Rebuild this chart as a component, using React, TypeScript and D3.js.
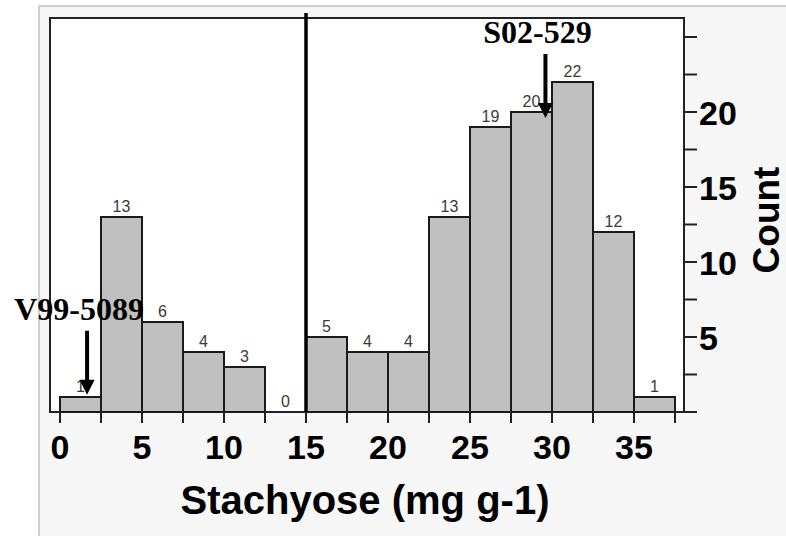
import * as d3 from 'd3';
import React from 'react';

// histogram of stachyose content, bins of 2.5 mg g-1
const binStarts = [0, 2.5, 5, 7.5, 10, 12.5, 15, 17.5, 20, 22.5, 25, 27.5, 30, 32.5, 35];
const counts = [1, 13, 6, 4, 3, 0, 5, 4, 4, 13, 19, 20, 22, 12, 1];
const binWidth = 2.5;
const xTickLabels = [0, 5, 10, 15, 20, 25, 30, 35];
const yTickLabels = [5, 10, 15, 20];
const cutoff = 15;

// annotated genotypes: [label, x value, count at arrow tip]
const notes = [
  { name: 'V99-5089', x: 1.65, tip: 1.15, labelDx: -8 },
  { name: 'S02-529', x: 29.6, tip: 19.6, labelDx: -8 },
];

const W = 786;
const H = 536;
const plot = { left: 50, right: 684, top: 18, bottom: 412 };

export default function App() {
  const x = d3.scaleLinear().domain([0, 37.5]).range([60, 675]);
  const y = d3.scaleLinear().domain([0, 25]).range([plot.bottom, plot.bottom - 375]);

  const edges = d3.range(0, 37.5 + 0.001, binWidth);
  const yMinor = d3.range(2.5, 25 + 0.001, 2.5);
  const sans = '"Liberation Sans", Arial, sans-serif';
  const serif = '"Liberation Serif", "Times New Roman", serif';

  return (
    <svg width={W} height={H} style={{ position: 'absolute', left: 0, top: 0, background: '#fff' }}>
      {/* outer panel */}
      <rect x={39} y={6} width={W} height={H} fill="#f7f7f7" stroke="#cfcfcf" strokeWidth={2} />
      {/* plot area */}
      <rect x={plot.left} y={plot.top} width={plot.right - plot.left} height={plot.bottom - plot.top}
        fill="#fff" stroke="#222" strokeWidth={2} />

      {/* bars */}
      {counts.map((c, i) => (
        c > 0 ? (
          <rect key={'b' + i} x={x(binStarts[i])} y={y(c)} width={x(binStarts[i] + binWidth) - x(binStarts[i])}
            height={y(0) - y(c)} fill="#c0c0c0" stroke="#1a1a1a" strokeWidth={2} />
        ) : null
      ))}
      {counts.map((c, i) => (
        <text key={'l' + i} x={x(binStarts[i] + binWidth / 2)} y={y(c) - 5}
          textAnchor="middle" fontFamily={sans} fontSize={16} fill="#3a3a3a">{c}</text>
      ))}

      {/* cutoff line */}
      <line x1={x(cutoff)} x2={x(cutoff)} y1={13} y2={plot.bottom} stroke="#000" strokeWidth={3.5} />

      {/* x axis ticks */}
      {edges.map((e) => (
        <line key={'xt' + e} x1={x(e)} x2={x(e)} y1={plot.bottom} y2={plot.bottom + 11} stroke="#222" strokeWidth={2} />
      ))}
      {xTickLabels.map((t) => (
        <text key={'xl' + t} x={x(t)} y={459} textAnchor="middle" fontFamily={sans} fontWeight="bold"
          fontSize={34} fill="#000">{t}</text>
      ))}
      <text x={365} y={514} textAnchor="middle" fontFamily={sans} fontWeight="bold" fontSize={40} fill="#000">
        Stachyose (mg g-1)
      </text>

      {/* right y axis */}
      <line x1={plot.right} x2={plot.right + 13} y1={plot.bottom} y2={plot.bottom} stroke="#222" strokeWidth={2} />
      {yMinor.map((t) => (
        <line key={'yt' + t} x1={plot.right} x2={plot.right + 13} y1={y(t)} y2={y(t)} stroke="#222" strokeWidth={2} />
      ))}
      {yTickLabels.map((t) => (
        <text key={'yl' + t} x={699} y={y(t) + 13} fontFamily={sans} fontWeight="bold" fontSize={34} fill="#000">{t}</text>
      ))}
      <text transform={`translate(779,${220}) rotate(-90)`} textAnchor="middle" fontFamily={sans}
        fontWeight="bold" fontSize={37} fill="#000">Count</text>

      {/* annotations */}
      {notes.map((n) => {
        const ax = x(n.x);
        const tipY = y(n.tip);
        const topY = tipY - 64;
        return (
          <g key={n.name}>
            <line x1={ax} x2={ax} y1={topY} y2={tipY - 12} stroke="#000" strokeWidth={4} />
            <path d={`M${ax - 7.5},${tipY - 15} L${ax + 7.5},${tipY - 15} L${ax},${tipY} Z`} fill="#000" />
            <text x={ax + n.labelDx} y={topY - 11} textAnchor="middle" fontFamily={serif} fontWeight="bold"
              fontSize={32} fill="#000">{n.name}</text>
          </g>
        );
      })}
    </svg>
  );
}
